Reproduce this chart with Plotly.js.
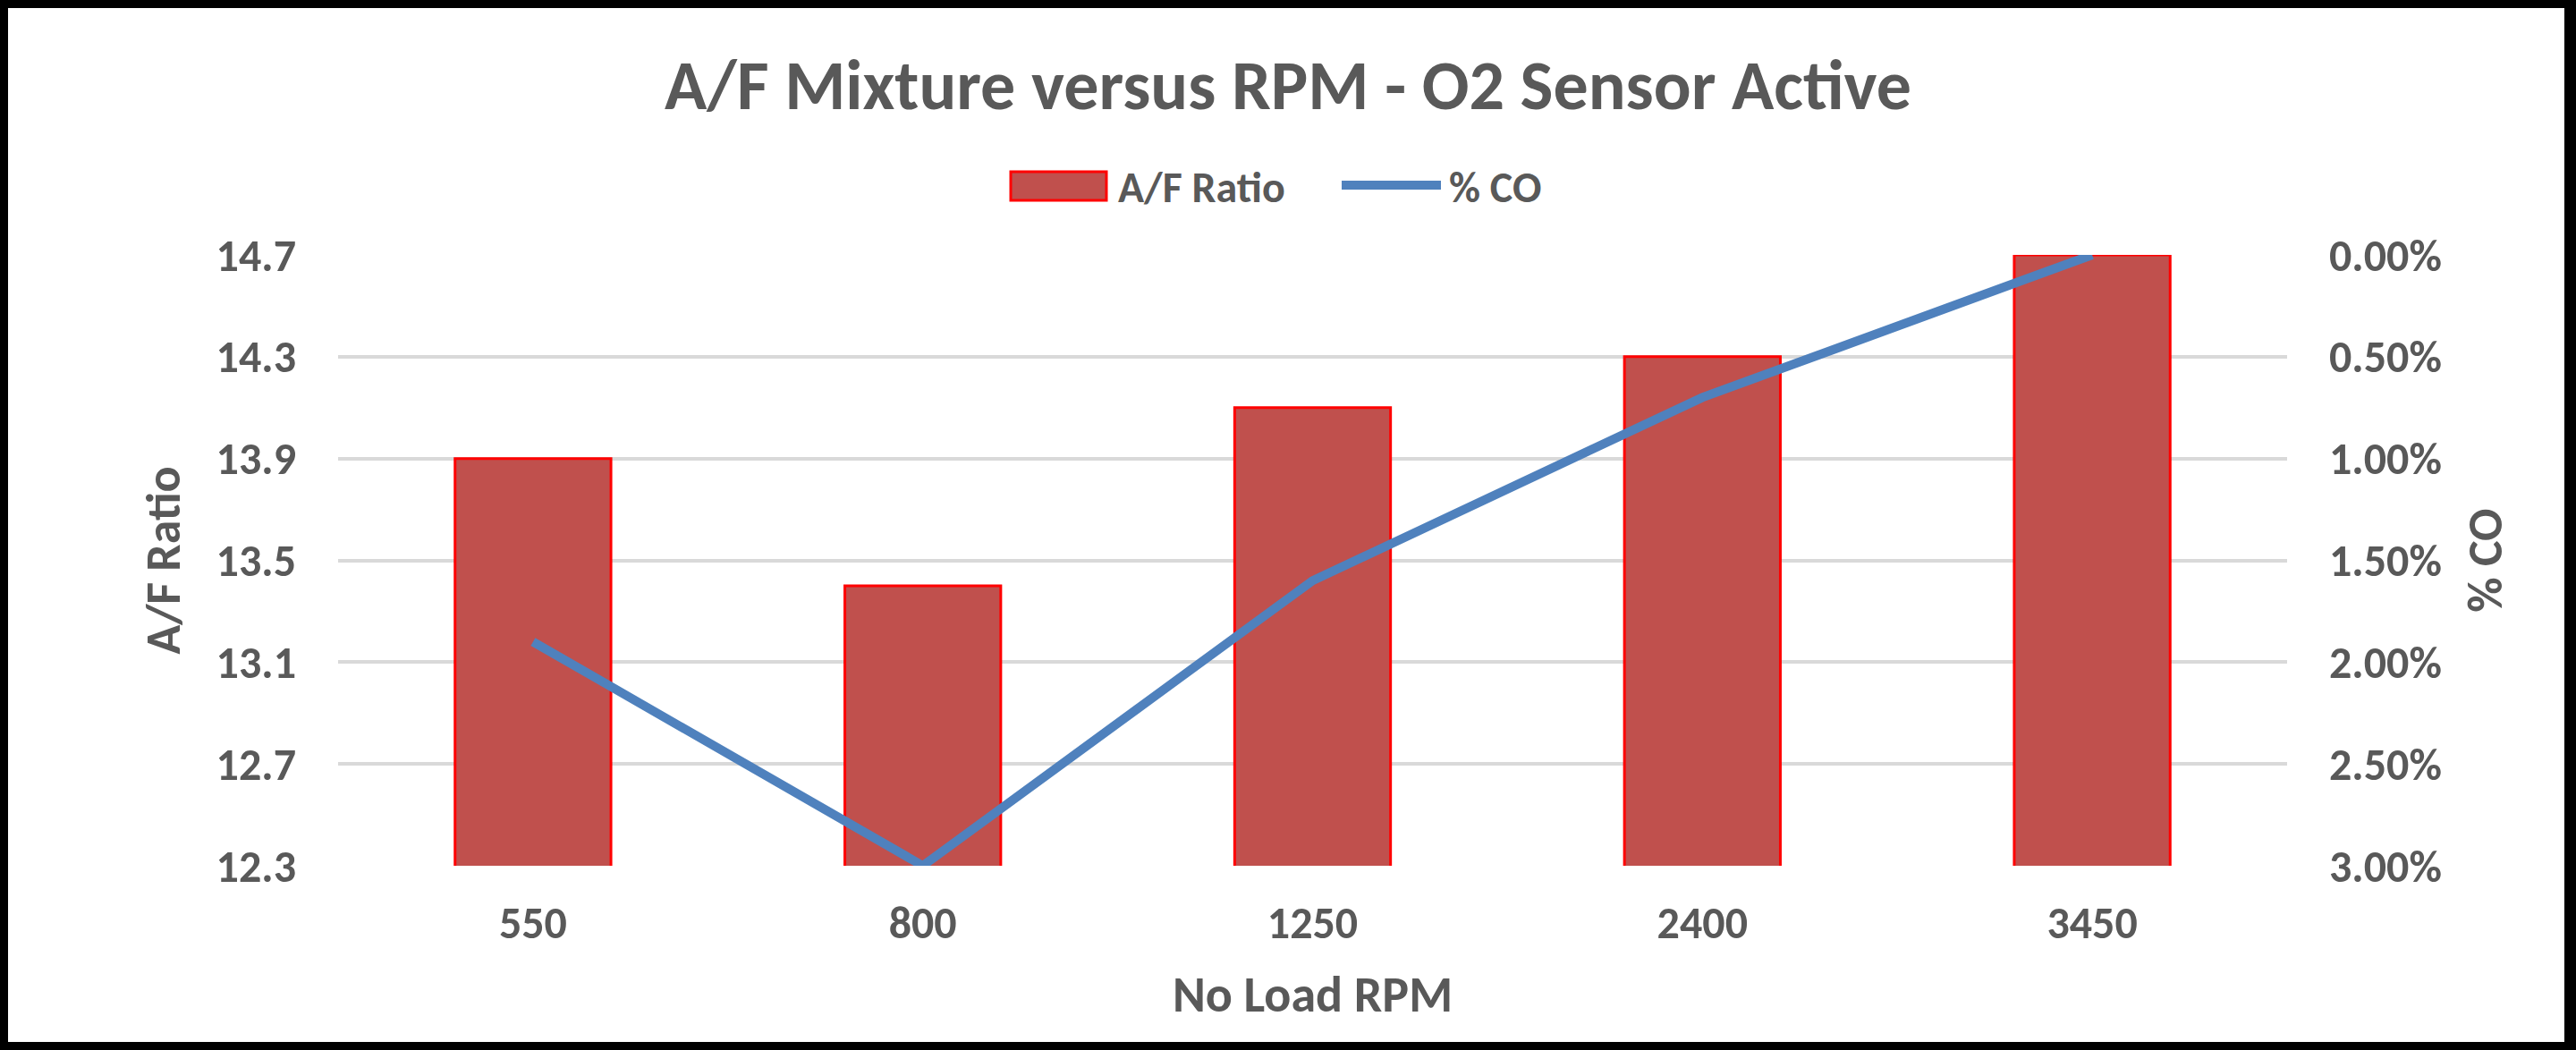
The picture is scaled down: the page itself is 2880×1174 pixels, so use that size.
<!DOCTYPE html>
<html>
<head>
<meta charset="utf-8">
<script src="https://cdn.plot.ly/plotly-3.0.1.min.js"></script>
<style>
  html, body { margin: 0; padding: 0; background: #fff; }
  #wrap { position: relative; width: 2880px; height: 1174px; overflow: hidden; }
  #chart { position: absolute; left: 0; top: 0; width: 2880px; height: 1174px; }
  #frame { position: absolute; left: 0; top: 0; width: 2880px; height: 1174px; box-sizing: border-box;
           border-style: solid; border-color: #000; border-width: 9px 13px 9px 9px; pointer-events: none; }
</style>
</head>
<body>
<div id="wrap"><div id="chart"></div><div id="frame"></div></div>
<script>
// ---- data ----
const rpmLabels = ['550', '800', '1250', '2400', '3450'];
const afRatio   = [13.9, 13.4, 14.1, 14.3, 14.7];
const coPercent = [0.019, 0.030, 0.016, 0.007, 0.000];
const afTicks   = [12.3, 12.7, 13.1, 13.5, 13.9, 14.3, 14.7];
const coTicks   = [0, 0.005, 0.010, 0.015, 0.020, 0.025, 0.030];

const FONT = "Carlito, Calibri, 'Liberation Sans Narrow', 'DejaVu Sans Condensed', sans-serif";
const GREY = '#595959';
const BAR_FILL = '#C0504D', BAR_EDGE = '#FF0000', LINE_COL = '#4F81BD';
const f = (size) => ({ family: FONT, size: size, color: GREY, weight: 'bold' });

const W = 2880, H = 1174;
const M = { l: 378, r: 323, t: 285, b: 206 };
const PW = W - M.l - M.r, PH = H - M.t - M.b;
const px = (x) => (x - M.l) / PW;          // pixel -> paper x
const py = (y) => (H - M.b - y) / PH;      // pixel -> paper y

const traces = [
  {
    type: 'bar',
    name: 'A/F Ratio',
    x: rpmLabels,
    y: afRatio,
    marker: { color: BAR_FILL, line: { color: BAR_EDGE, width: 3 } },
    yaxis: 'y'
  },
  {
    type: 'scatter',
    mode: 'lines',
    name: '% CO',
    x: rpmLabels,
    y: coPercent,
    line: { color: LINE_COL, width: 10 },
    yaxis: 'y2'
  }
];

// legend drawn as layout decorations (large swatches like the original)
const legY = 207;
const shapes = [
  { type: 'rect', xref: 'paper', yref: 'paper',
    x0: px(1130), x1: px(1237), y0: py(224), y1: py(192),
    fillcolor: BAR_FILL, line: { color: BAR_EDGE, width: 3 } },
  { type: 'line', xref: 'paper', yref: 'paper',
    x0: px(1500), x1: px(1611), y0: py(legY), y1: py(legY),
    line: { color: LINE_COL, width: 10 } }
];
const annotations = [
  { xref: 'paper', yref: 'paper', x: px(1248), y: py(legY + 2), xanchor: 'left', yanchor: 'middle',
    text: traces[0].name, showarrow: false, font: f(48) },
  { xref: 'paper', yref: 'paper', x: px(1618), y: py(legY + 2), xanchor: 'left', yanchor: 'middle',
    text: traces[1].name, showarrow: false, font: f(48) }
];

const layout = {
  width: W,
  height: H,
  paper_bgcolor: '#FFFFFF',
  plot_bgcolor: '#FFFFFF',
  margin: { l: M.l, r: M.r, t: M.t, b: M.b, pad: 0 },
  bargap: 0.6,
  font: f(50),
  title: {
    text: 'A/F Mixture versus RPM - O2 Sensor Active',
    font: f(78),
    x: 0.5, xanchor: 'center',
    y: 1 - 95 / H, yref: 'container', yanchor: 'middle'
  },
  showlegend: false,
  shapes: shapes,
  annotations: annotations,
  xaxis: {
    type: 'category',
    tickfont: f(50),
    ticks: '',
    ticklabelstandoff: 30,
    showgrid: false,
    zeroline: false,
    showline: false,
    title: { text: 'No Load RPM', font: f(56), standoff: 30 }
  },
  yaxis: {
    range: [12.3, 14.7],
    tickvals: afTicks,
    ticktext: afTicks.map(v => v.toFixed(1)),
    tickfont: f(50),
    ticks: '',
    ticklabelstandoff: 46,
    showgrid: true,
    gridcolor: '#D9D9D9',
    gridwidth: 4,
    zeroline: false,
    showline: false,
    title: { text: 'A/F Ratio', font: f(54), standoff: 22 }
  },
  yaxis2: {
    overlaying: 'y',
    side: 'right',
    range: [0.03, 0],
    tickvals: coTicks,
    tickformat: '.2%',
    tickfont: f(50),
    ticks: '',
    ticklabelstandoff: 46,
    showgrid: false,
    zeroline: false,
    showline: false,
    title: { text: '% CO', font: f(54), standoff: 30 }
  }
};

Plotly.newPlot('chart', traces, layout, { staticPlot: true, displayModeBar: false });
</script>
</body>
</html>
